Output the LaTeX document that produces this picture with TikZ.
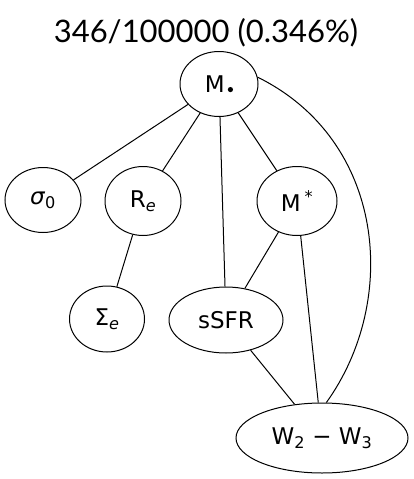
\documentclass[tikz,border=0pt]{standalone}
\usepackage{fontspec}
\setmainfont{DejaVu Sans}
\newfontfamily\titlefont{Lato}
\usetikzlibrary{shapes.geometric}
\newcommand{\mydot}{\tikz[x=1pt,y=1pt,baseline=0pt]\fill (0,2.8) circle (2.6);}
\begin{document}
\begin{tikzpicture}[x=1pt,y=-1pt,
  gnode/.style={draw,ellipse,line width=1pt,inner sep=0pt,font=\fontsize{23}{26}\selectfont},
  gedge/.style={line width=1pt}]
\useasboundingbox (0,0) rectangle (413,479);
\node[font=\titlefont\fontsize{31}{34}\selectfont] (title) at (206,33) {346/100000 (0.346\%)};
\node[gnode,minimum width=78pt,minimum height=65pt] (M) at (219,84) {M\hspace{3pt}\mydot};
\node[gnode,minimum width=76pt,minimum height=65pt] (s0) at (43,200) {\textit{σ}\textsubscript{0}};
\node[gnode,minimum width=76pt,minimum height=69pt] (Re) at (143,201) {R\textsubscript{\textit{e}}};
\node[gnode,minimum width=80pt,minimum height=69pt] (Ms) at (297,201) {M\,\textsuperscript{*}};
\node[gnode,minimum width=75pt,minimum height=66pt] (Se) at (107,319) {Σ\textsubscript{\textit{e}}};
\node[gnode,minimum width=114pt,minimum height=66pt] (sSFR) at (226,320) {sSFR};
\node[gnode,minimum width=172pt,minimum height=70pt] (W) at (322,438) {W\textsubscript{2} − W\textsubscript{3}};
\draw[gedge] (M) -- (s0);
\draw[gedge] (M) -- (Re);
\draw[gedge] (M) -- (sSFR);
\draw[gedge] (M) -- (Ms);
\draw[gedge] (M.10) .. controls (385,140) and (400,300) .. (W.83);
\draw[gedge] (Re) -- (Se);
\draw[gedge] (Ms) -- (sSFR);
\draw[gedge] (Ms) -- (W);
\draw[gedge] (sSFR) -- (W);
\end{tikzpicture}
\end{document}
